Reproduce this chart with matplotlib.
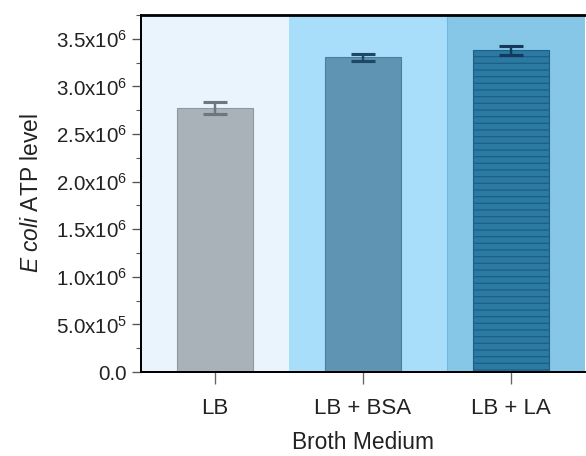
import matplotlib
matplotlib.use("Agg")
import matplotlib.pyplot as plt
from matplotlib.ticker import MultipleLocator, FixedLocator

categories = ["LB", "LB + BSA", "LB + LA"]
atp_mean = [2.775e6, 3.305e6, 3.38e6]
atp_err = [0.06e6, 0.035e6, 0.045e6]
ytick_vals = [0.0, 0.5e6, 1.0e6, 1.5e6, 2.0e6, 2.5e6, 3.0e6, 3.5e6]
ytick_labels = ["0.0", r"5.0x10$^{5}$", r"1.0x10$^{6}$", r"1.5x10$^{6}$",
                r"2.0x10$^{6}$", r"2.5x10$^{6}$", r"3.0x10$^{6}$", r"3.5x10$^{6}$"]
band_edges = [-0.5, 0.5, 1.57, 2.5]

plt.rcParams['font.family'] = ['Liberation Sans', 'DejaVu Sans']
plt.rcParams['mathtext.fontset'] = 'custom'
plt.rcParams['mathtext.rm'] = 'Liberation Sans'
plt.rcParams['mathtext.it'] = 'Liberation Sans:italic'
plt.rcParams['mathtext.bf'] = 'Liberation Sans:bold'
plt.rcParams['hatch.linewidth'] = 1.2

DPI = 80
fig = plt.figure(figsize=(586 / DPI, 456 / DPI), dpi=DPI)
ax = fig.add_axes([141 / 586, 84 / 456, 444 / 586, 357 / 456])

band_colors = ["#eaf4fd", "#a9defa", "#86c7e8"]
for i, c in enumerate(band_colors):
    ax.axvspan(band_edges[i], band_edges[i + 1], color=c, zorder=0, lw=0)
ax.axvline(band_edges[2], color="#6fb8de", lw=1.0, zorder=0.5)

x = list(range(len(categories)))
bar_colors = ["#a9b1b9", "#5f94b2", "#2b7aa3"]
edge_colors = ["#8e979f", "#4a7e9b", "#1d5f85"]
hatches = [None, None, "--"]
err_colors = ["#6c7780", "#1f4864", "#14395a"]
for i in x:
    ax.bar(x[i], atp_mean[i], width=0.51, color=bar_colors[i],
           edgecolor=edge_colors[i], linewidth=1.0, hatch=hatches[i], zorder=2)
    ax.errorbar(x[i], atp_mean[i], yerr=atp_err[i], fmt="none",
                ecolor=err_colors[i], elinewidth=2.2, capsize=11,
                capthick=2.8, zorder=3)

ax.set_xlim(-0.5, 2.5)
ax.set_ylim(0, 3.75e6)
ax.yaxis.set_major_locator(FixedLocator(ytick_vals))
ax.set_yticklabels(ytick_labels, fontsize=18.5, color='#222222')
ax.yaxis.set_minor_locator(MultipleLocator(0.25e6))
ax.set_xticks(x)
ax.set_xticklabels(categories, fontsize=20, color='#222222')

ax.tick_params(axis='y', which='major', direction='out', length=8.5, width=1.2,
               color='#555555', pad=4)
ax.tick_params(axis='y', which='minor', direction='out', length=4.5, width=1.0,
               color='#555555')
ax.tick_params(axis='x', which='major', direction='out', length=11, width=1.2,
               color='#666666', pad=12)

for s in ['left', 'bottom', 'top']:
    ax.spines[s].set_color('black')
    ax.spines[s].set_linewidth(1.8)
ax.spines['top'].set_linewidth(2.5)
ax.spines['right'].set_visible(False)

ax.set_ylabel(r"$\it{E\ coli}$ ATP level", fontsize=20.5, labelpad=12,
              color='#222222')
ax.set_xlabel("Broth Medium", fontsize=20.5, labelpad=11, color='#222222')

fig.savefig("out.png", dpi=DPI)
